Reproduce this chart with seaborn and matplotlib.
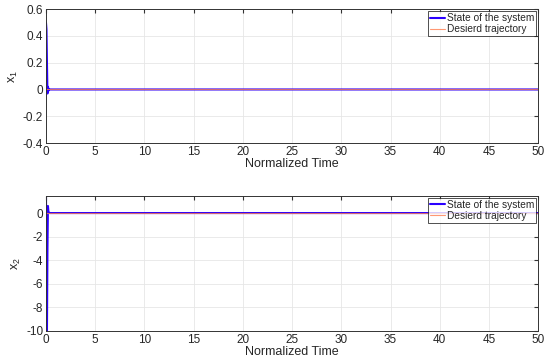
import numpy
import pandas
import seaborn
import matplotlib.pyplot as plt
from matplotlib.ticker import FormatStrFormatter

seaborn.set_style('whitegrid')
plt.rcParams['font.family'] = ['Liberation Sans', 'DejaVu Sans']

# fast transient near t=0, then flat at zero
t_x1 = [0.0, 0.05, 0.1, 0.15, 0.2, 0.25, 0.3, 0.4, 1.0, 50.0]
x1 = [0.5, 0.45, 0.2, -0.03, 0.02, -0.01, 0.005, 0.0, 0.0, 0.0]
t_x2 = [0.0, 0.05, 0.1, 0.15, 0.2, 0.25, 0.3, 0.4, 1.0, 50.0]
x2 = [1.5, -4.0, -10.0, -3.0, 0.6, 0.1, 0.05, 0.0, 0.0, 0.0]
t_ref = [0.0, 50.0]
ref = [0.0, 0.0]

state_color = '#2a00ff'
ref_color = '#ff7f50'


def panel(ax, t, x, ylabel, ylim, yticks):
    df = pandas.DataFrame({'t': t, 'x': x})
    rf = pandas.DataFrame({'t': t_ref, 'x': ref})
    seaborn.lineplot(data=df, x='t', y='x', ax=ax, color=state_color,
                     linewidth=1.5, label='State of the system')
    seaborn.lineplot(data=rf, x='t', y='x', ax=ax, color=ref_color,
                     linewidth=0.8, alpha=0.8, label='Desierd trajectory')
    ax.set_xlim(0, 50)
    ax.set_ylim(*ylim)
    ax.set_xticks(numpy.arange(0, 51, 5))
    ax.set_yticks(yticks)
    ax.yaxis.set_major_formatter(FormatStrFormatter('%g'))
    ax.set_xlabel('Normalized Time', fontsize=9, labelpad=0)
    ax.set_ylabel(ylabel, fontsize=9, labelpad=2)
    ax.tick_params(direction='in', top=True, right=True, length=3,
                   labelsize=8.5, pad=2, color='#333333')
    ax.grid(True, color='#e6e6e6', linewidth=0.6)
    for s in ax.spines.values():
        s.set_color('#333333')
        s.set_linewidth(0.7)
    leg = ax.legend(loc='upper right', fontsize=7.3, frameon=True, fancybox=False,
                    borderpad=0.2, handlelength=1.5, handletextpad=0.2,
                    labelspacing=0.1, borderaxespad=0.2)
    leg.get_frame().set_edgecolor('black')
    leg.get_frame().set_linewidth(0.6)


fig = plt.figure(figsize=(5.5, 3.64), dpi=100)
ax1 = fig.add_axes([0.0836, 0.607, 0.895, 0.368])
ax2 = fig.add_axes([0.0836, 0.0907, 0.895, 0.371])

panel(ax1, t_x1, x1, '$\\mathregular{x_1}$', (-0.4, 0.6), numpy.round(numpy.arange(-0.4, 0.61, 0.2), 1))
panel(ax2, t_x2, x2, '$\\mathregular{x_2}$', (-10, 1.45), numpy.arange(-10, 1, 2))

fig.savefig('out.png', dpi=100)
